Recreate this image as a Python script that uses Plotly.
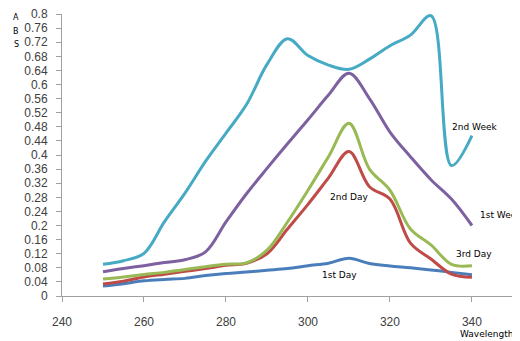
import plotly.graph_objects as go

wavelength = [250, 255, 260, 265, 270, 275, 280, 285, 290, 295, 300, 305, 310, 315, 320, 325, 330, 335, 340]

day1 = [0.028, 0.035, 0.043, 0.047, 0.050, 0.058, 0.064, 0.068, 0.073, 0.078, 0.086, 0.093, 0.107, 0.092, 0.085, 0.080, 0.074, 0.067, 0.060]
day2 = [0.034, 0.042, 0.054, 0.062, 0.070, 0.078, 0.087, 0.093, 0.120, 0.190, 0.260, 0.335, 0.410, 0.310, 0.275, 0.150, 0.105, 0.062, 0.053]
day3 = [0.048, 0.054, 0.061, 0.067, 0.075, 0.083, 0.090, 0.094, 0.130, 0.210, 0.300, 0.395, 0.490, 0.360, 0.300, 0.190, 0.145, 0.090, 0.086]
week1 = [0.069, 0.078, 0.086, 0.095, 0.103, 0.125, 0.210, 0.290, 0.362, 0.432, 0.500, 0.570, 0.632, 0.560, 0.465, 0.395, 0.330, 0.275, 0.200]
week2 = [0.090, 0.100, 0.121, 0.211, 0.292, 0.382, 0.462, 0.543, 0.657, 0.730, 0.682, 0.655, 0.643, 0.672, 0.710, 0.740, 0.795, 0.370, 0.455]

series = [
    ("1st Day", day1, "#4A7EBB"),
    ("2nd Day", day2, "#BE4B48"),
    ("3rd Day", day3, "#98B954"),
    ("1st Week", week1, "#7D60A0"),
    ("2nd Week", week2, "#46AAC5"),
]

y_ticks = [0, 0.04, 0.08, 0.12, 0.16, 0.2, 0.24, 0.28, 0.32, 0.36, 0.4, 0.44, 0.48,
           0.52, 0.56, 0.6, 0.64, 0.68, 0.72, 0.76, 0.8]
y_ticktext = ["0", "0.04", "0.08", "0.12", "0.16", "0.2", "0.24", "0.28", "0.32", "0.36", "0.4",
              "0.44", "0.48", "0.52", "0.56", "0.6", "0.64", "0.68", "0.72", "0.76", "0.8"]
x_ticks = [240, 260, 280, 300, 320, 340]

labels = [
    ("2nd Week", 340.5, 0.48, "center"),
    ("1st Week", 341.5, 0.23, "left"),
    ("2nd Day", 310, 0.281, "center"),
    ("3rd Day", 340.5, 0.119, "center"),
    ("1st Day", 307.8, 0.06, "center"),
]

fig = go.Figure()
for name, vals, color in series:
    fig.add_trace(go.Scatter(x=wavelength, y=vals, mode="lines", name=name,
                             line=dict(color=color, width=3, shape="spline", smoothing=1.0)))

for text, lx, ly, anchor in labels:
    fig.add_annotation(x=lx, y=ly, xref="x", yref="y", text=text, showarrow=False,
                       xanchor=anchor, yanchor="middle",
                       font=dict(family="DejaVu Sans", size=9, color="#000000"))

# stacked y-axis title letters
for letter, py in [("A", 0.986), ("B", 0.938), ("S", 0.892)]:
    fig.add_annotation(x=-0.1015, y=py, xref="paper", yref="paper", text=letter, showarrow=False,
                       xanchor="center", yanchor="middle",
                       font=dict(family="DejaVu Sans", size=8, color="#000000"))

fig.add_annotation(x=0.937, y=-0.135, xref="paper", yref="paper", text="Wavelength", showarrow=False,
                   xanchor="center", yanchor="middle",
                   font=dict(family="DejaVu Sans", size=9, color="#000000"))

# the page body adds an 8px offset; margins compensate so the plot area lands where the reference has it
fig.update_layout(
    width=520, height=341,
    margin=dict(l=54, r=13, t=6, b=53, autoexpand=False),
    paper_bgcolor="white", plot_bgcolor="white",
    showlegend=False,
    font=dict(family="Liberation Sans", size=12, color="#404040"),
)

fig.update_xaxes(range=[240, 350.5], tickvals=x_ticks, showgrid=False, zeroline=False,
                 showline=True, linecolor="#A0A0A0", linewidth=1,
                 ticks="outside", ticklen=5, tickcolor="#A0A0A0",
                 ticklabelstandoff=10, automargin=False, ticklabeloverflow="allow")
fig.update_yaxes(range=[0, 0.8], tickvals=y_ticks, ticktext=y_ticktext, showgrid=False, zeroline=False,
                 showline=True, linecolor="#A0A0A0", linewidth=1,
                 ticks="outside", ticklen=5, tickcolor="#A0A0A0", ticklabelstandoff=6,
                 automargin=False, ticklabeloverflow="allow")

fig.write_html("out.html")
